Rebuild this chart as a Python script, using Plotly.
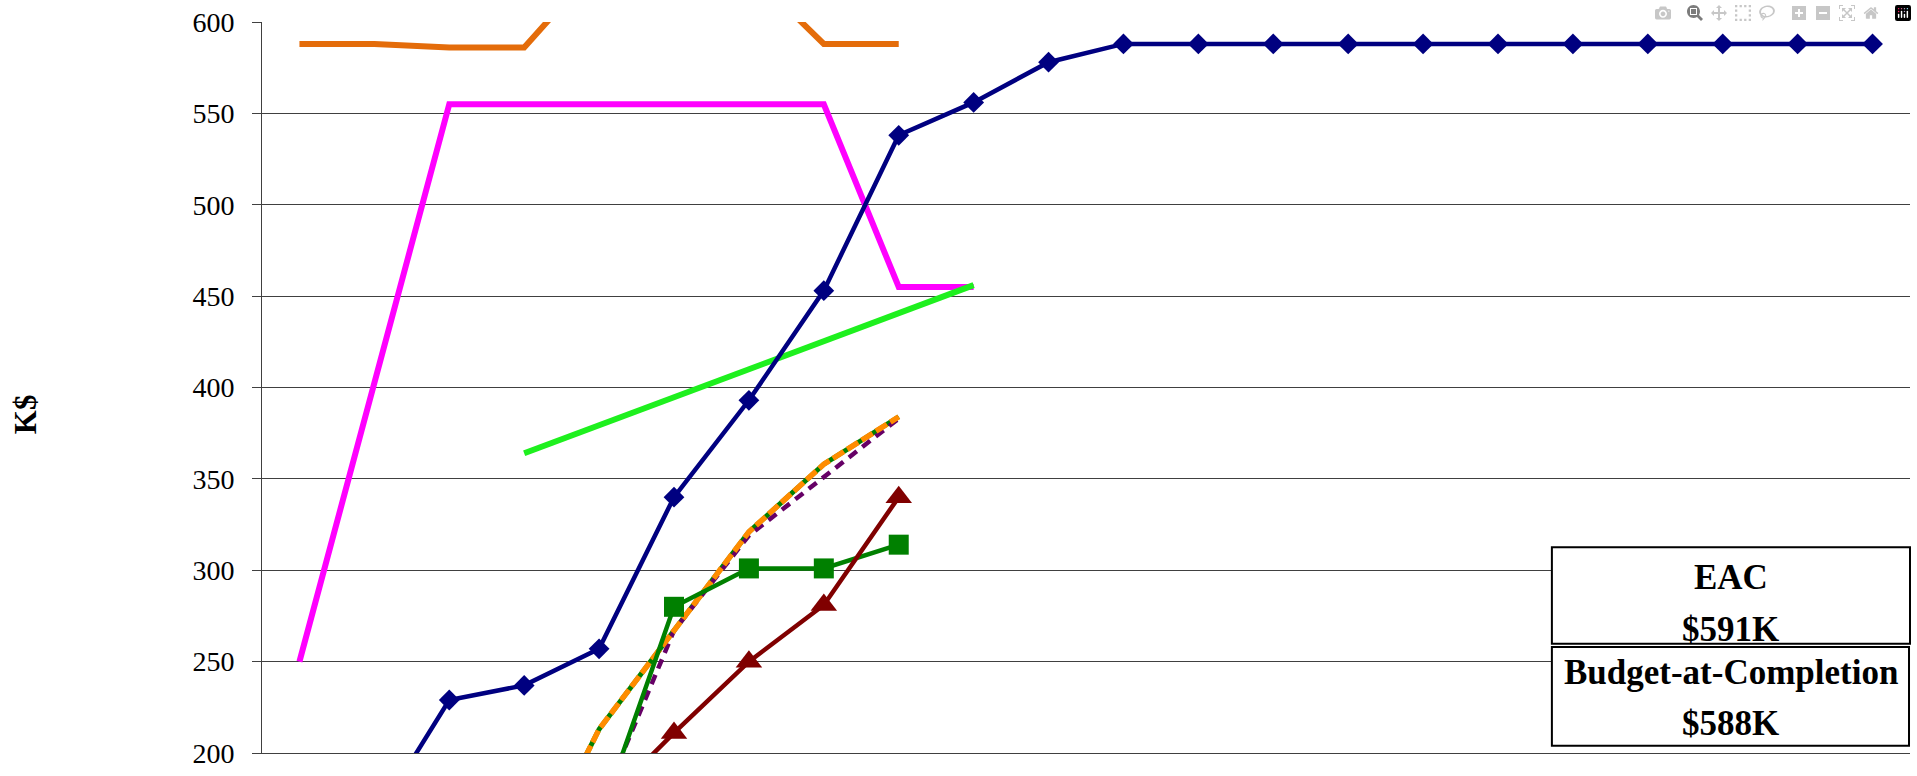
import plotly.graph_objects as go

# ---- data (K$) by period index ----
periods = list(range(22))

pv_x = list(range(1, 22))
pv_y = [163, 229, 237, 257, 340, 393, 453, 538, 556, 578,
        588, 588, 588, 588, 588, 588, 588, 588, 588, 588, 588]

eac_x = list(range(0, 9))
eac_y = [588, 588, 586, 586, 632, 638, 628, 588, 588]

mag_x = list(range(0, 10))
mag_y = [250, 402, 555, 555, 555, 555, 555, 555, 455, 455]

trend_x = [3, 9]
trend_y = [364, 456]

ac_x = [4, 5, 6, 7, 8]
ac_y = [163, 280, 301, 301, 314]

ev_x = [4, 5, 6, 7, 8]
ev_y = [170, 211, 250, 281, 340]

fc_x = [3, 4, 5, 6, 7, 8]
fc_y = [131, 213, 267, 321, 358, 384]

pu_x = [4, 5, 6, 7, 8]
pu_y = [169, 267, 319, 351, 383]

y_ticks = [200, 250, 300, 350, 400, 450, 500, 550, 600]

eac_label = ["EAC", "$591K"]
bac_label = ["Budget-at-Completion", "$588K"]

FONT = "Liberation Serif"

fig = go.Figure()

fig.add_trace(go.Scatter(x=eac_x, y=eac_y, mode="lines",
                         line=dict(color="#E46C0A", width=6), name="EAC trend"))
fig.add_trace(go.Scatter(x=mag_x, y=mag_y, mode="lines",
                         line=dict(color="#FF00FF", width=6), name="Budget"))
fig.add_trace(go.Scatter(x=trend_x, y=trend_y, mode="lines",
                         line=dict(color="#1EF01E", width=6), name="Trend"))
fig.add_trace(go.Scatter(x=pv_x, y=pv_y, mode="lines+markers",
                         line=dict(color="#000080", width=4.5),
                         marker=dict(symbol="diamond", size=16, color="#000080"),
                         name="Planned"))
fig.add_trace(go.Scatter(x=fc_x, y=fc_y, mode="lines",
                         line=dict(color="#008000", width=5), name="Forecast base"))
fig.add_trace(go.Scatter(x=pu_x, y=pu_y, mode="lines",
                         line=dict(color="#660066", width=4.5, dash="10px,7px"),
                         name="Purple"))
fig.add_trace(go.Scatter(x=fc_x, y=fc_y, mode="lines",
                         line=dict(color="#FF8C00", width=5.5, dash="13px,4px"),
                         name="Forecast"))
fig.add_trace(go.Scatter(x=ac_x, y=ac_y, mode="lines+markers",
                         line=dict(color="#008000", width=4.5),
                         marker=dict(symbol="square", size=20, color="#008000"),
                         name="Actual"))
fig.add_trace(go.Scatter(x=ev_x, y=ev_y, mode="lines+markers",
                         line=dict(color="#800000", width=4.5),
                         marker=dict(symbol="triangle-up", size=23, color="#800000"),
                         name="Earned"))

fig.update_layout(
    width=1917, height=776,
    margin=dict(l=262, r=7, t=20, b=16),
    paper_bgcolor="white", plot_bgcolor="white",
    showlegend=False,
    font=dict(family=FONT, color="black"),
    xaxis=dict(range=[-0.5, 21.5], showgrid=False, zeroline=False,
               showticklabels=False, ticks="", showline=True,
               linecolor="#404040", linewidth=1),
    yaxis=dict(range=[200, 600], tickvals=y_ticks, showgrid=True,
               gridcolor="#404040", gridwidth=1.3, zeroline=False,
               showline=True, linecolor="#404040", linewidth=1,
               ticks="outside", ticklen=9, tickcolor="#404040",
               ticklabelstandoff=12,
               tickfont=dict(family=FONT, size=28, color="black")),
)

# boxes
fig.add_shape(type="rect", xref="paper", yref="paper",
              x0=0.7827, x1=1.0, y0=0.1496, y1=0.2815,
              line=dict(color="black", width=2), fillcolor="white", layer="above")
fig.add_shape(type="rect", xref="paper", yref="paper",
              x0=0.7827, x1=0.9994, y0=0.0099, y1=0.145,
              line=dict(color="black", width=2), fillcolor="white", layer="above")

txt = dict(family=FONT, size=35, color="black")
for label, yy in [(eac_label[0], 0.2399), (eac_label[1], 0.1689),
                  (bac_label[0], 0.1095), (bac_label[1], 0.0405)]:
    fig.add_annotation(xref="paper", yref="paper", x=0.8913, y=yy,
                       xanchor="center", yanchor="middle",
                       text="<b>%s</b>" % label, showarrow=False, font=txt)

fig.add_annotation(xref="paper", yref="paper", x=-0.1438, y=0.4635,
                   xanchor="center", yanchor="middle",
                   text="<b>K$</b>", textangle=-90, showarrow=False,
                   font=dict(family=FONT, size=31, color="black"))

fig.write_html("out.html",
               post_script="document.body.style.margin='0';document.body.style.overflow='hidden';")
